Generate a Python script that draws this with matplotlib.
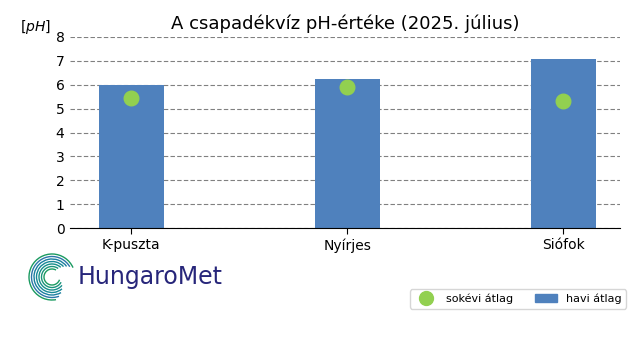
import matplotlib
matplotlib.use("Agg")
import matplotlib.pyplot as plt
from matplotlib.patches import Arc
from matplotlib.lines import Line2D
from matplotlib.patches import Patch
import numpy as np

stations = ["K-puszta", "Nyírjes", "Siófok"]
havi = [6.0, 6.24, 7.08]
sokevi = [5.45, 5.9, 5.32]
yticks = [0, 1, 2, 3, 4, 5, 6, 7, 8]

fig = plt.figure(figsize=(6.4, 3.6), dpi=100)
ax = fig.add_axes([70/640, 1-228/360, 550/640, 191/360])
x = np.arange(len(stations))
ax.set_axisbelow(True)
ax.yaxis.grid(True, linestyle=(0, (4, 2)), color="#808080", linewidth=0.8)
ax.bar(x, havi, width=0.3, color="#4f81bd", zorder=2)
ax.scatter(x, sokevi, s=110, color="#92d050", zorder=3)
ax.set_xlim(-0.283, 2.262)
ax.set_ylim(0, 8)
ax.set_yticks(yticks)
ax.set_xticks(x)
ax.set_xticklabels(stations, fontsize=10)
ax.tick_params(axis="y", length=0, labelsize=10, pad=4)
ax.tick_params(axis="x", length=4, labelsize=10)
for s in ["top", "right", "left"]:
    ax.spines[s].set_visible(False)
ax.set_title("A csapadékvíz pH-értéke (2025. július)", fontsize=13, pad=6)
fig.text(35/640, 1-27/360, r"$[pH]$", fontsize=10, ha="center", va="center")

handles = [Line2D([], [], marker="o", linestyle="none", color="#92d050", markersize=10),
           Patch(color="#4f81bd")]
fig.legend(handles, ["sokévi átlag", "havi átlag"], ncol=2, fontsize=8,
           loc="center", bbox_to_anchor=(518/640, 1-299/360), frameon=True,
           handlelength=2.0, columnspacing=2.0, borderpad=0.4, fancybox=True)

# logo
lax = fig.add_axes([0, 0, 1, 1], facecolor="none")
lax.set_xlim(0, 640)
lax.set_ylim(360, 0)
lax.axis("off")
cx, cy = 52, 277
cols = ["#1a9a60", "#19947a", "#178e8a", "#168896", "#1a7fa0", "#2a76a8"]
for i, r in enumerate(np.arange(8, 24, 2.5)):
    c = cols[i % len(cols)]
    lax.add_patch(Arc((cx, cy), 2*r, 2*r, theta1=20 + i*10, theta2=300 + i*6,
                      color=c, lw=1.0))
lax.text(78, 277, "HungaroMet", fontsize=17, color="#27267a", va="center", ha="left",
         family="DejaVu Sans")

fig.savefig("out.png", dpi=100)
